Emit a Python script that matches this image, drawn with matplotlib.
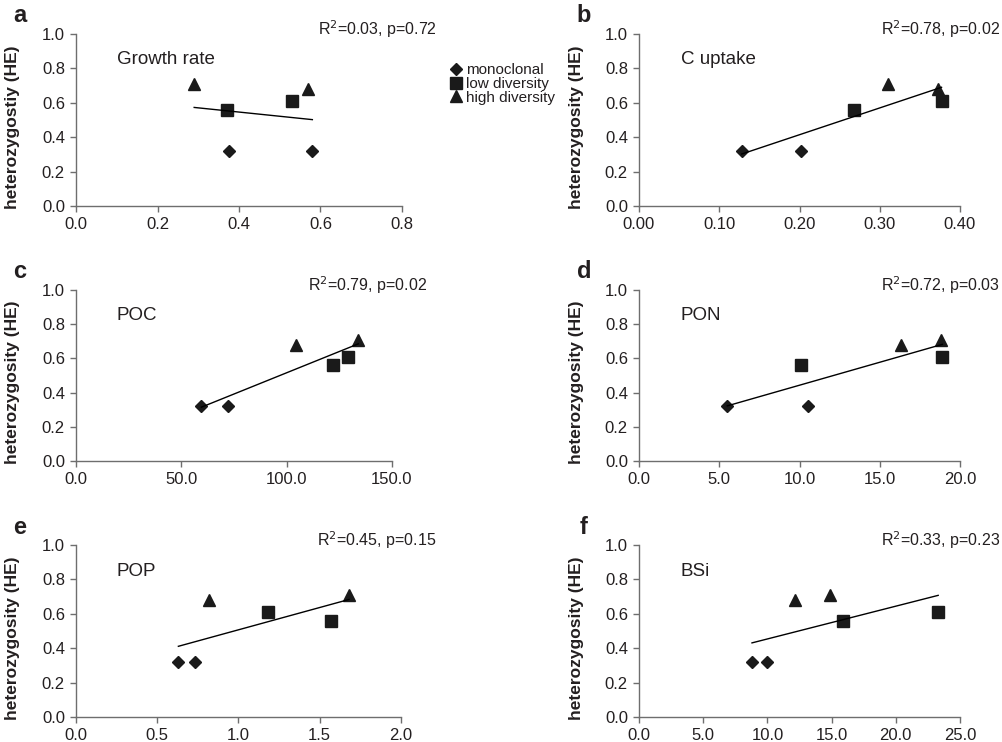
import numpy as np
import matplotlib
matplotlib.use("Agg")
import matplotlib.pyplot as plt
from matplotlib.lines import Line2D

plt.rcParams['font.family'] = ['Liberation Sans', 'DejaVu Sans']

# HE values per group (same populations in every panel)
he_mono = [0.32, 0.32]
he_low = [0.56, 0.61]
he_high = [0.71, 0.68]

# x values for each panel, per group
growth_mono = [0.375, 0.58]
growth_low = [0.37, 0.53]
growth_high = [0.29, 0.57]

cup_mono = [0.128, 0.202]
cup_low = [0.268, 0.377]
cup_high = [0.31, 0.373]

poc_mono = [59.5, 72.3]
poc_low = [121.8, 129.0]
poc_high = [134.0, 104.3]

pon_mono = [5.5, 10.55]
pon_low = [10.1, 18.9]
pon_high = [18.8, 16.3]

pop_mono = [0.63, 0.73]
pop_low = [1.57, 1.18]
pop_high = [1.68, 0.82]

bsi_mono = [8.8, 10.0]
bsi_low = [15.9, 23.3]
bsi_high = [14.9, 12.15]

panel_letters = ['a', 'b', 'c', 'd', 'e', 'f']
panel_names = ['Growth rate', 'C uptake', 'POC', 'PON', 'POP', 'BSi']
stats_text = ['R$^2$=0.03, p=0.72', 'R$^2$=0.78, p=0.02', 'R$^2$=0.79, p=0.02',
              'R$^2$=0.72, p=0.03', 'R$^2$=0.45, p=0.15', 'R$^2$=0.33, p=0.23']
xticks = [[0.0, 0.2, 0.4, 0.6, 0.8],
          [0.0, 0.1, 0.2, 0.3, 0.4],
          [0.0, 50.0, 100.0, 150.0],
          [0.0, 5.0, 10.0, 15.0, 20.0],
          [0.0, 0.5, 1.0, 1.5, 2.0],
          [0.0, 5.0, 10.0, 15.0, 20.0, 25.0]]
xfmt = ['%.1f', '%.2f', '%.1f', '%.1f', '%.1f', '%.1f']
ylabels = ['heterozygostiy (HE)'] + ['heterozygosity (HE)'] * 5

xdata = [(growth_mono, growth_low, growth_high),
         (cup_mono, cup_low, cup_high),
         (poc_mono, poc_low, poc_high),
         (pon_mono, pon_low, pon_high),
         (pop_mono, pop_low, pop_high),
         (bsi_mono, bsi_low, bsi_high)]

W, H = 1003, 742
# axes boxes in pixels: left, right, top, bottom
boxes = [(76, 402, 34, 206), (639, 960, 34, 206),
         (76, 392, 290, 461), (639, 960, 290, 461),
         (76, 401, 545, 717), (639, 960, 545, 717)]

TXT = '#231f20'
MK = '#1a1a1a'
SP = '#6e6e6e'

fig = plt.figure(figsize=(W / 100, H / 100), dpi=100)


def fx(px):
    return px / W


def fy(py):
    return 1 - py / H


for i, (l, r, t, b) in enumerate(boxes):
    ax = fig.add_axes([fx(l), fy(b), fx(r - l), (b - t) / H])
    xm, xl, xh = xdata[i]
    ax.plot(xm, he_mono, 'D', color=MK, ms=6.5, ls='none')
    ax.plot(xl, he_low, 's', color=MK, ms=8.5, ls='none')
    ax.plot(xh, he_high, '^', color=MK, ms=8.5, ls='none')

    # linear fit over all points
    xs = np.array(xm + xl + xh)
    ys = np.array(he_mono + he_low + he_high)
    k, c = np.polyfit(xs, ys, 1)
    xx = np.array([xs.min(), xs.max()])
    ax.plot(xx, k * xx + c, color='black', lw=1.0)

    ax.set_xlim(xticks[i][0], xticks[i][-1])
    ax.set_ylim(0, 1.0)
    ax.set_xticks(xticks[i])
    ax.set_xticklabels([xfmt[i] % v for v in xticks[i]])
    ax.set_yticks([0.0, 0.2, 0.4, 0.6, 0.8, 1.0])
    ax.set_yticklabels(['%.1f' % v for v in [0.0, 0.2, 0.4, 0.6, 0.8, 1.0]])
    for s in ['top', 'right']:
        ax.spines[s].set_visible(False)
    for s in ['left', 'bottom']:
        ax.spines[s].set_color(SP)
        ax.spines[s].set_linewidth(1.0)
    ax.tick_params(axis='both', direction='out', length=4, width=1.0,
                   color=SP, labelsize=12, labelcolor=TXT)
    ax.tick_params(axis='x', pad=4)
    ax.tick_params(axis='y', pad=4)
    ax.patch.set_alpha(0)

    ax.set_ylabel(ylabels[i], fontsize=12.5, fontweight='bold', color=TXT)
    ax.yaxis.label.set_va('center')
    lab_x = 13 if l < 300 else 577
    ax.yaxis.set_label_coords((lab_x - l) / (r - l), 0.46)

    # panel letter, variable name, stats
    fig.text(fx(lab_x + 7), fy(t - 18), panel_letters[i], fontsize=17,
             fontweight='bold', color=TXT, ha='center', va='center')
    fig.text(fx(l + 41 if l < 300 else l + 42), fy(t + 26), panel_names[i],
             fontsize=13.5, color=TXT, ha='left', va='center')
    fig.text(fx(r + 35 if l < 300 else 1000), fy(t - 5), stats_text[i],
             fontsize=11.5, color=TXT, ha='right', va='center')

handles = [Line2D([], [], marker='D', color=MK, ls='none', ms=6.5),
           Line2D([], [], marker='s', color=MK, ls='none', ms=8),
           Line2D([], [], marker='^', color=MK, ls='none', ms=8)]
fig.legend(handles, ['monoclonal', 'low diversity', 'high diversity'],
           loc='center left', bbox_to_anchor=(fx(441), fy(84)), frameon=False,
           fontsize=11, handletextpad=0.15, labelspacing=-0.02,
           handlelength=1.1, labelcolor=TXT, borderaxespad=0)

fig.savefig('out.png', dpi=100)
